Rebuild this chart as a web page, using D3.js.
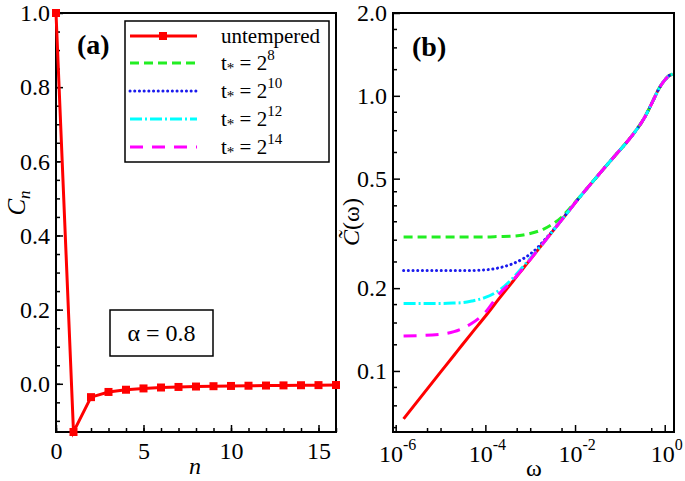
<!DOCTYPE html>
<html><head><meta charset="utf-8">
<script src="https://cdn.jsdelivr.net/npm/d3@7"></script>
<style>
body{margin:0;background:#fff;}
svg text{font-family:"Liberation Serif","Times New Roman",Times,serif !important;}
</style></head>
<body><svg id="c" width="685" height="481"></svg>
<script>
// ---------- Panel (a) data ----------
const nVals = d3.range(0, 17);
const Cn = [1.0, -0.13, -0.036, -0.022, -0.016, -0.0125, -0.010, -0.0085, -0.0074, -0.0065, -0.0058, -0.0052, -0.0047, -0.0043, -0.0039, -0.0036, -0.0033];
const aYTicks = [0.0, 0.2, 0.4, 0.6, 0.8, 1.0];
const aXTicks = [0, 5, 10, 15];
const alphaLabel = "α = 0.8";

// ---------- Panel (b) data ----------
const omega = [1.5e-6, 1e-5, 2e-5, 3e-5, 5e-5, 1e-4, 2e-4, 4e-4, 7e-4, 1e-3, 1.5e-3, 2e-3, 3e-3, 5e-3, 7e-3, 1e-2, 0.0354, 0.0838, 0.15, 0.231, 0.35, 0.445, 0.6, 0.738, 1.0, 1.22, 1.5];
const untempered = [0.067, 0.099, 0.114, 0.124, 0.1376, 0.158, 0.1828, 0.2106, 0.2363, 0.254, 0.2762, 0.2931, 0.3184, 0.3535, 0.3787, 0.408, 0.522, 0.615, 0.685, 0.75, 0.83, 0.895, 0.99, 1.06, 1.14, 1.18, 1.20];
const t8  = [0.307, 0.307, 0.307, 0.307, 0.307, 0.307, 0.308, 0.309, 0.312, 0.316, 0.322, 0.328, 0.340, 0.362, 0.384, 0.410, 0.522, 0.615, 0.685, 0.75, 0.83, 0.895, 0.99, 1.06, 1.14, 1.18, 1.20];
const t10 = [0.232, 0.232, 0.232, 0.232, 0.232, 0.233, 0.237, 0.245, 0.256, 0.266, 0.282, 0.297, 0.320, 0.3545, 0.379, 0.408, 0.522, 0.615, 0.685, 0.75, 0.83, 0.895, 0.99, 1.06, 1.14, 1.18, 1.20];
const t12 = [0.176, 0.176, 0.1765, 0.177, 0.1795, 0.185, 0.196, 0.2165, 0.240, 0.2565, 0.2765, 0.2931, 0.3184, 0.3535, 0.3787, 0.408, 0.522, 0.615, 0.685, 0.75, 0.83, 0.895, 0.99, 1.06, 1.14, 1.18, 1.20];
const t14 = [0.134, 0.136, 0.139, 0.1425, 0.149, 0.1635, 0.190, 0.2125, 0.2365, 0.254, 0.2762, 0.2931, 0.3184, 0.3535, 0.3787, 0.408, 0.522, 0.615, 0.685, 0.75, 0.83, 0.895, 0.99, 1.06, 1.14, 1.18, 1.20];
const bYTicks = [0.1, 0.2, 0.5, 1.0, 2.0];
const bYMinor = [0.0625, 0.075, 0.0875, 0.125, 0.15, 0.175, 0.25, 0.3, 0.35, 0.4, 0.45, 0.625, 0.75, 0.875, 1.25, 1.5, 1.75];
const bXTickExp = [-6, -4, -2, 0];
const bXMinor = [5e-6, 1e-5, 5e-5, 5e-4, 1e-3, 5e-3, 5e-2, 1e-1, 5e-1];
const legendLabels = ["untempered", "8", "10", "12", "14"];

const svg = d3.select("#c");
const FS = 24;

// ---------- Panel (a) ----------
const ax = d3.scaleLinear().domain([0, 16]).range([56, 336]);
const ay = d3.scaleLinear().domain([-0.13, 1.0]).range([432, 13]);
const ga = svg.append("g");

ga.append("g").attr("transform", "translate(56,0)")
  .call(d3.axisLeft(ay).tickValues(d3.range(-0.1, 1.0001, 0.05)).tickSize(-4).tickFormat(""))
  .call(g => g.select(".domain").remove());
ga.append("g").attr("transform", "translate(56,0)")
  .call(d3.axisLeft(ay).tickValues(aYTicks).tickSize(-7).tickPadding(6).tickFormat(d3.format(".1f")))
  .call(g => g.select(".domain").remove());
ga.append("g").attr("transform", "translate(0,432)")
  .call(d3.axisBottom(ax).tickValues(d3.range(0, 17)).tickSize(-4).tickFormat(""))
  .call(g => g.select(".domain").remove());
ga.append("g").attr("transform", "translate(0,432)")
  .call(d3.axisBottom(ax).tickValues(aXTicks).tickSize(-7).tickPadding(10).tickFormat(d3.format("d")))
  .call(g => g.select(".domain").remove());
ga.selectAll(".tick line").attr("stroke", "#000").attr("stroke-width", 1.5);
ga.selectAll(".tick text").attr("font-size", FS).attr("fill", "#000");

ga.append("rect").attr("x", 56).attr("y", 13).attr("width", 280).attr("height", 419)
  .attr("fill", "none").attr("stroke", "#000").attr("stroke-width", 2);

const lineA = d3.line().x((d, i) => ax(nVals[i])).y(d => ay(d));
ga.append("path").datum(Cn).attr("d", lineA).attr("fill", "none").attr("stroke", "#ff0000").attr("stroke-width", 3);
ga.selectAll("rect.m").data(Cn).enter().append("rect").attr("class", "m")
  .attr("x", (d, i) => ax(nVals[i]) - 4).attr("y", d => ay(d) - 4)
  .attr("width", 8).attr("height", 8).attr("fill", "#ff0000");

ga.append("text").attr("x", 77).attr("y", 54).attr("font-size", 28).attr("font-weight", "bold").text("(a)");

// alpha box
ga.append("rect").attr("x", 110).attr("y", 310).attr("width", 103).attr("height", 46)
  .attr("fill", "#fff").attr("stroke", "#000").attr("stroke-width", 1.5);
ga.append("text").attr("x", 161.5).attr("y", 341).attr("text-anchor", "middle").attr("font-size", FS).text(alphaLabel);

// axis labels (a)
ga.append("text").attr("transform", "translate(25,203) rotate(-90)").attr("text-anchor", "middle")
  .attr("font-size", 25).attr("font-style", "italic")
  .call(t => { t.append("tspan").text("C"); t.append("tspan").attr("font-size", 17).attr("dy", 5).text("n"); });
ga.append("text").attr("x", 195).attr("y", 474).attr("text-anchor", "middle").attr("font-size", 24).attr("font-style", "italic").text("n");

// ---------- Panel (b) ----------
const bx = d3.scaleLog().domain([Math.pow(10, -6.06), Math.pow(10, 0.207)]).range([393, 674]);
const by = d3.scaleLog().domain([0.06, 2.0]).range([432, 13]);
const gb = svg.append("g");

gb.append("g").attr("transform", "translate(393,0)")
  .call(d3.axisLeft(by).tickValues(bYMinor).tickSize(-4).tickFormat(""))
  .call(g => g.select(".domain").remove());
gb.append("g").attr("transform", "translate(393,0)")
  .call(d3.axisLeft(by).tickValues(bYTicks).tickSize(-7).tickPadding(6).tickFormat(d3.format(".1f")))
  .call(g => g.select(".domain").remove());
gb.append("g").attr("transform", "translate(0,432)")
  .call(d3.axisBottom(bx).tickValues(bXMinor).tickSize(-4).tickFormat(""))
  .call(g => g.select(".domain").remove());
gb.append("g").attr("transform", "translate(0,432)")
  .call(d3.axisBottom(bx).tickValues(bXTickExp.map(e => Math.pow(10, e))).tickSize(-7).tickFormat(""))
  .call(g => g.select(".domain").remove());
gb.selectAll(".tick line").attr("stroke", "#000").attr("stroke-width", 1.5);
gb.selectAll(".tick text").attr("font-size", FS).attr("fill", "#000");

bXTickExp.forEach(e => {
  const t = gb.append("text").attr("x", bx(Math.pow(10, e)) + 2).attr("y", 462).attr("text-anchor", "middle").attr("font-size", FS);
  t.append("tspan").text("10");
  t.append("tspan").attr("font-size", 16).attr("dy", -12).text(e === 0 ? "0" : "-" + Math.abs(e));
});

gb.append("rect").attr("x", 393).attr("y", 13).attr("width", 281).attr("height", 419)
  .attr("fill", "none").attr("stroke", "#000").attr("stroke-width", 2);

gb.append("clipPath").attr("id", "clipb").append("rect").attr("x", 393).attr("y", 13).attr("width", 281).attr("height", 419);
const lineB = d3.line().x((d, i) => bx(omega[i])).y(d => by(d)).curve(d3.curveMonotoneX);
const seriesB = [
  { v: untempered, c: "#ff0000", dash: null, cap: "butt" },
  { v: t8,  c: "#22ee22", dash: "9,5", cap: "butt" },
  { v: t10, c: "#1a1aee", dash: "0.1,4.6", cap: "round" },
  { v: t12, c: "#00ffff", dash: "12,3,2,3", cap: "butt" },
  { v: t14, c: "#ff00ff", dash: "13,9", cap: "butt" }
];
const gl = gb.append("g").attr("clip-path", "url(#clipb)");
seriesB.forEach(s => {
  gl.append("path").datum(s.v).attr("d", lineB).attr("fill", "none").attr("stroke", s.c)
    .attr("stroke-width", 3).attr("stroke-dasharray", s.dash).attr("stroke-linecap", s.cap);
});

gb.append("text").attr("x", 412).attr("y", 56).attr("font-size", 28).attr("font-weight", "bold").text("(b)");
gb.append("text").attr("transform", "translate(359,222) rotate(-90)").attr("text-anchor", "middle")
  .attr("font-size", 24).call(t => {
    t.append("tspan").attr("font-style", "italic").text("C\u0303");
    t.append("tspan").text("(ω)");
  });
gb.append("text").attr("x", 534).attr("y", 476).attr("text-anchor", "middle").attr("font-size", 24).text("ω");

// ---------- Legend (in panel a) ----------
const lg = svg.append("g");
lg.append("rect").attr("x", 125).attr("y", 21).attr("width", 204).attr("height", 141)
  .attr("fill", "#fff").attr("stroke", "#000").attr("stroke-width", 1.5);
const rowY = [36, 63, 91, 119, 147];
seriesB.forEach((s, i) => {
  lg.append("line").attr("x1", 130).attr("x2", 197).attr("y1", rowY[i]).attr("y2", rowY[i])
    .attr("stroke", s.c).attr("stroke-width", 3).attr("stroke-dasharray", s.dash).attr("stroke-linecap", s.cap);
  if (i === 0) lg.append("rect").attr("x", 159).attr("y", rowY[i] - 4).attr("width", 8).attr("height", 8).attr("fill", "#ff0000");
  const t = lg.append("text").attr("x", 221).attr("y", rowY[i] + 7).attr("font-size", 21);
  if (i === 0) t.text(legendLabels[0]);
  else {
    t.append("tspan").text("t");
    t.append("tspan").attr("font-size", 15).attr("dy", 3).text("*");
    t.append("tspan").attr("dy", -3).text(" = 2");
    t.append("tspan").attr("font-size", 15).attr("dy", -10).text(legendLabels[i]);
  }
});
</script></body></html>
